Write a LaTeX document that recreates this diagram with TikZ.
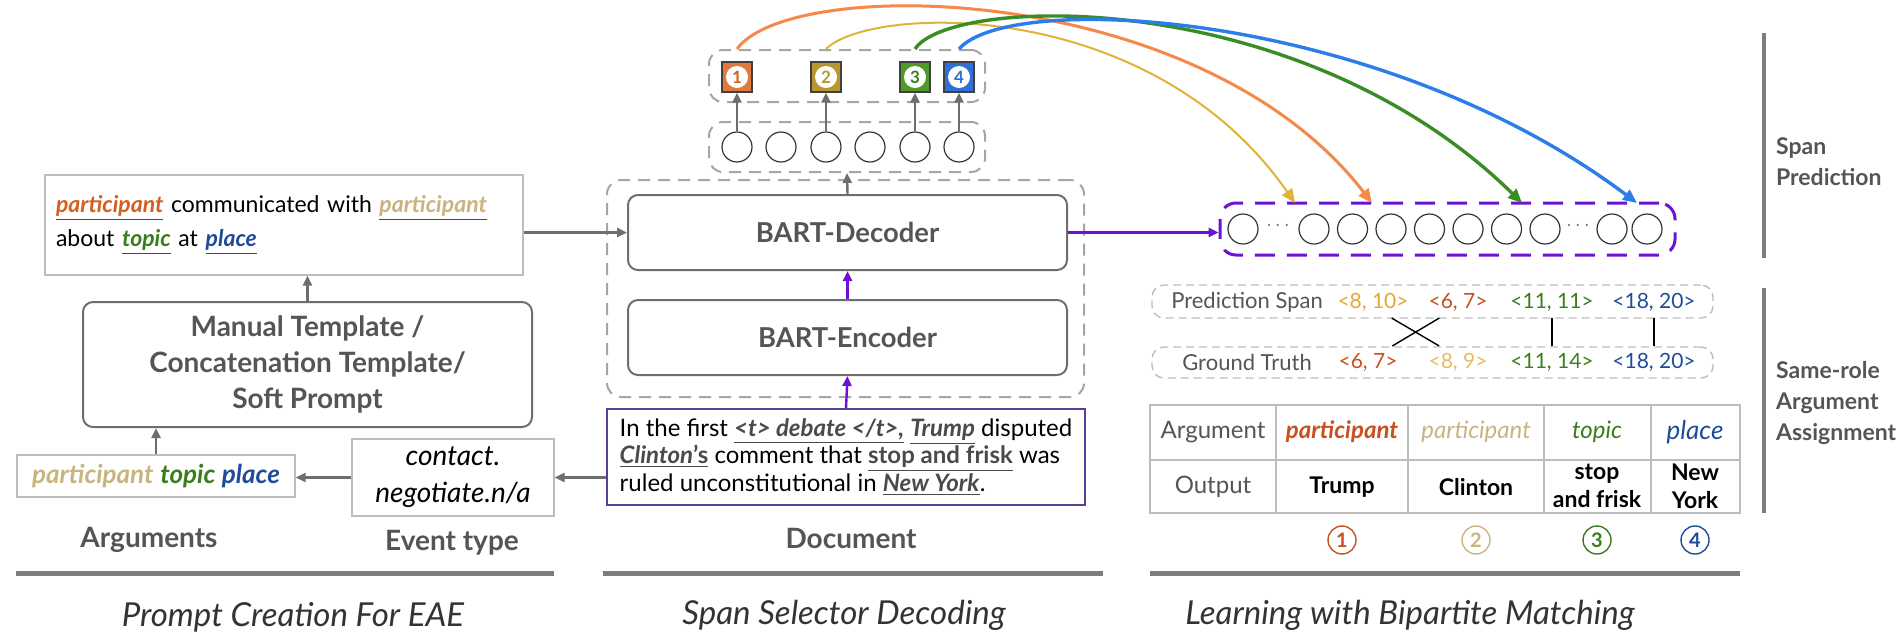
\documentclass[tikz,border=0pt]{standalone}
\usepackage{fontspec}
\setmainfont{Lato}
\usetikzlibrary{calc}
\usetikzlibrary{shapes}
\usetikzlibrary{arrows.meta}
\definecolor{argorange}{HTML}{D2601F}
\definecolor{argred}{HTML}{C8501E}
\definecolor{argtan}{HTML}{C9B47F}
\definecolor{arggold}{HTML}{E3A735}
\definecolor{arggreen}{HTML}{3A7D1C}
\definecolor{argblue}{HTML}{1F4B98}
\definecolor{arcorange}{HTML}{F5884A}
\definecolor{arcyellow}{HTML}{DFB23A}
\definecolor{arcgreen}{HTML}{3A8C27}
\definecolor{arcblue}{HTML}{2B7DE9}
\definecolor{sqorange}{HTML}{E07A3C}
\definecolor{sqgold}{HTML}{B8982E}
\definecolor{sqgreen}{HTML}{4E9A2A}
\definecolor{sqblue}{HTML}{2F6FD8}
\definecolor{bartpurple}{HTML}{6A12D6}
\definecolor{docpurple}{HTML}{5A3C9A}
\definecolor{linegray}{HTML}{6E6E6E}
\definecolor{dashgray}{HTML}{A5A5A5}
\definecolor{lightgray}{HTML}{BDBDBD}
\definecolor{textgray}{HTML}{555555}
\definecolor{ulgray}{HTML}{4A4A4A}
\newcommand{\tok}[3]{ \node[tok] (#1) at (#2,#3) {}; }
\newcommand{\outsq}[5]{ \node[outsq, fill=#3] (#1) at (#2,77) {}; \node[outnum, text=#4] (#1n) at (#1) {#5}; }
\newcommand{\cnum}[4]{ \node[cnum, draw=#3, text=#3] (#1) at (#2,540) {#4}; }
\newcommand{\undl}[1]{{\color{ulgray}\underline{#1}}}
\newcommand{\bi}[2]{\textcolor{#1}{\textbf{\textit{#2}}}}

\tikzset{
    box/.style={draw=lightgray, line width=0.7pt, inner sep=0pt},
    rbox/.style={draw=linegray, line width=1pt, rounded corners=5pt, text=textgray, font=\fontsize{13.7}{16}\selectfont\bfseries},
    dbox/.style={draw=dashgray, line width=1pt, dash pattern=on 6pt off 4pt, rounded corners=7pt},
    sbox/.style={draw=lightgray, line width=0.7pt, dash pattern=on 4pt off 2.5pt, rounded corners=6pt, minimum width=280.5pt},
    tok/.style={circle, draw=black!80, line width=0.6pt, minimum size=15pt, inner sep=0pt},
    outsq/.style={draw=black!75, line width=0.6pt, minimum size=15pt, inner sep=0pt},
    outnum/.style={circle, fill=white, minimum size=11pt, inner sep=0pt, font=\fontsize{8.5}{9}\selectfont\bfseries},
    cnum/.style={circle, line width=0.7pt, minimum size=14pt, inner sep=0pt, font=\fontsize{10}{10}\selectfont\bfseries},
    garrow/.style={draw=linegray, line width=1.2pt, -{Triangle[length=5pt,width=4.5pt]}},
    parrow/.style={draw=bartpurple, line width=1.2pt, -{Triangle[length=5pt,width=4.5pt]}},
    arc/.style={-{Triangle[length=7pt,width=6pt]}},
    lbl/.style={text=textgray, font=\fontsize{14}{16}\selectfont\bfseries},
    side/.style={text=textgray, anchor=west, align=left, font=\fontsize{11.5}{15.5}\selectfont\bfseries},
    bar/.style={draw=linegray!90, line width=2pt},
    sep/.style={draw=linegray!90, line width=2.5pt},
    title/.style={text=black!80, font=\fontsize{16.5}{18}\selectfont\itshape},
    spantxt/.style={font=\fontsize{10.5}{12}\selectfont, minimum height=15.5pt, inner xsep=0pt},
    spanlbl/.style={text=textgray, font=\fontsize{11}{12}\selectfont},
    cell/.style={font=\fontsize{12}{13}\selectfont, align=center},
    outcell/.style={font=\fontsize{11.5}{14}\selectfont\bfseries, align=center},
    tline/.style={draw=lightgray, line width=0.8pt}
}

\begin{document}
\begin{tikzpicture}[x=0.5pt,y=-0.5pt]
    \useasboundingbox (0,0) rectangle (1898,634);
    % prompt creation
    \node[box, minimum width=239pt, minimum height=50pt, text width=228pt, align=left, font=\fontsize{11.5}{17}\selectfont] (tmpl) at (284,225)
        {\undl{\bi{argorange}{participant}} communicated with \undl{\bi{argtan}{participant}}\\
         about \undl{\bi{arggreen}{topic}} at \undl{\bi{argblue}{place}}};
    \node[rbox, minimum width=224.5pt, minimum height=62.5pt, align=center, font=\fontsize{14}{18}\selectfont\bfseries] (manual) at (307.5,364.5)
        {Manual Template /\\Concatenation Template/\\Soft Prompt};
    \node[box, minimum width=139pt, minimum height=21pt, font=\fontsize{13}{13}\selectfont] (args) at (156,476)
        {\bi{argtan}{participant} \bi{arggreen}{topic} \bi{argblue}{place}};
    \node[box, minimum width=101pt, minimum height=38.5pt, align=center, font=\fontsize{14}{18.5}\selectfont\itshape] (event) at (453,477.5)
        {contact.\\negotiate.n/a};
    \node[lbl] (argslbl) at (149,540) {Arguments};
    \node[lbl] (eventlbl) at (452,543) {Event type};
    \draw[garrow] (args.north) -- (args.north |- manual.south);
    \draw[garrow] (manual.north) -- (manual.north |- tmpl.south);
    \draw[garrow] (event.west) -- (event.west -| args.east);

    % span selector decoding
    \node[dbox, minimum width=238.5pt, minimum height=108.5pt] (bart) at (845.5,288.5) {};
    \node[rbox, minimum width=219.5pt, minimum height=37.5pt] (dec) at (847.5,232.5) {BART-Decoder};
    \node[rbox, minimum width=219.5pt, minimum height=37.5pt] (enc) at (847.5,337.5) {BART-Encoder};
    \node[draw=docpurple, line width=0.8pt, minimum width=239pt, minimum height=48pt, align=left, font=\fontsize{12}{13.8}\selectfont] (doc) at (846,457)
        {In the first \undl{\textbf{\textit{<t> debate </t>,}}} \undl{\textbf{\textit{Trump}}} disputed\\
         \undl{\textbf{\textit{Clinton}}\textbf{'s}} comment that \undl{\textbf{stop and frisk}} was\\
         ruled unconstitutional in \undl{\textbf{\textit{New York}}}.};
    \node[lbl] (doclbl) at (851,538) {Document};
    \node[dbox, minimum width=138pt, minimum height=25pt] (hidbox) at (847,147) {};
    \tok{h1}{737}{147}
    \tok{h2}{781}{147}
    \tok{h3}{826}{147}
    \tok{h4}{870}{147}
    \tok{h5}{915}{147}
    \tok{h6}{959}{147}
    \node[dbox, minimum width=138pt, minimum height=26pt] (outbox) at (847,76) {};
    \outsq{s1}{737}{sqorange}{argorange}{1}
    \outsq{s2}{826}{sqgold}{sqgold}{2}
    \outsq{s3}{915}{sqgreen}{arggreen}{3}
    \outsq{s4}{959}{sqblue}{sqblue}{4}
    \draw[garrow] (h1.north) -- (s1.south);
    \draw[garrow] (h3.north) -- (s2.south);
    \draw[garrow] (h5.north) -- (s3.south);
    \draw[garrow] (h6.north) -- (s4.south);
    \draw[garrow] (dec.north) -- (hidbox.south);
    \draw[parrow] (enc.north) -- (dec.south);
    \draw[parrow] (doc.north) -- (enc.south);
    \draw[garrow] (tmpl.east |- dec.west) -- (dec.west);
    \draw[garrow] (doc.west |- event.east) -- (event.east);

    % span prediction
    \node[draw=bartpurple, line width=1.5pt, dash pattern=on 10pt off 6pt, rounded corners=8pt, minimum width=227.5pt, minimum height=26pt] (seq) at (1447.5,229) {};
    \tok{q1}{1243}{229}
    \node[text=black!60, font=\bfseries] (dotsa) at (1278,226) {$\cdots$};
    \tok{q2}{1314}{229}
    \tok{q3}{1352.5}{229}
    \tok{q4}{1391}{229}
    \tok{q5}{1429.5}{229}
    \tok{q6}{1468}{229}
    \tok{q7}{1506.5}{229}
    \tok{q8}{1545}{229}
    \node[text=black!60, font=\bfseries] (dotsb) at (1578,226) {$\cdots$};
    \tok{q9}{1612}{229}
    \tok{q10}{1647}{229}
    \draw[parrow] (dec.east) -- (dec.east -| seq.west);
    \coordinate (t1) at (1372,203);
    \coordinate (t2) at (1295,203);
    \coordinate (t3) at (1522,203);
    \coordinate (t4) at (1637,203);
    \draw[arc, draw=arcyellow, line width=1pt] (s2 |- outbox.north) .. controls (870,5) and (1150,-5) .. (t2);
    \draw[arc, draw=arcorange, line width=1.5pt] (s1 |- outbox.north) .. controls (790,-25) and (1200,-20) .. (t1);
    \draw[arc, draw=arcgreen, line width=1.7pt] (s3 |- outbox.north) .. controls (950,-5) and (1300,-15) .. (t3);
    \draw[arc, draw=arcblue, line width=1.7pt] (s4 |- outbox.north) .. controls (1010,-10) and (1380,10) .. (t4);

    % bipartite matching
    \node[sbox, minimum height=16.5pt] (predbox) at (1432.5,301.5) {};
    \node[sbox, minimum height=15.5pt] (truthbox) at (1432.5,362.5) {};
    \node[spantxt, spanlbl] (predlbl) at (1247,302) {Prediction Span};
    \node[spantxt, text=arggold] (pa) at (1373,302) {<8, 10>};
    \node[spantxt, text=argred] (pb) at (1458,302) {<6, 7>};
    \node[spantxt, text=arggreen] (pc) at (1552,302) {<11, 11>};
    \node[spantxt, text=argblue] (pd) at (1654,302) {<18, 20>};
    \node[spantxt, spanlbl] (truthlbl) at (1247,362) {Ground Truth};
    \node[spantxt, text=argred] (ga) at (1368,362) {<6, 7>};
    \node[spantxt, text=arggold!80] (gb) at (1458,362) {<8, 9>};
    \node[spantxt, text=arggreen] (gc) at (1552,362) {<11, 14>};
    \node[spantxt, text=argblue] (gd) at (1654,362) {<18, 20>};
    \draw[line width=0.7pt] ($(pa.south)!0.22!(pb.south)$) -- ($(ga.north)!0.79!(gb.north)$);
    \draw[line width=0.7pt] ($(pa.south)!0.78!(pb.south)$) -- ($(ga.north)!0.27!(gb.north)$);
    \draw[line width=0.7pt] (pc.south) -- (gc.north);
    \draw[line width=0.7pt] (pd.south) -- (gd.north);
    % table
    \draw[tline] (1150,405) rectangle (1740,513);
    \draw[tline] (1150,460) -- (1740,460);
    \draw[tline] (1276,405) -- (1276,513);
    \draw[tline] (1408,405) -- (1408,513);
    \draw[tline] (1544,405) -- (1544,513);
    \draw[tline] (1651,405) -- (1651,513);
    \node[cell, text=textgray] (ta1) at (1213,432) {Argument};
    \node[cell, text=argred] (ta2) at (1342,432) {\textbf{\textit{participant}}};
    \node[cell, text=argtan] (ta3) at (1476,432) {\textit{participant}};
    \node[cell, text=arggreen] (ta4) at (1597,432) {\textit{topic}};
    \node[cell, text=argblue, font=\fontsize{13}{13}\selectfont] (ta5) at (1695,432) {\textit{place}};
    \node[cell, text=textgray] (to1) at (1213,487) {Output};
    \node[outcell] (to2) at (1342,487) {Trump};
    \node[outcell] (to3) at (1476,487) {Clinton};
    \node[outcell] (to4) at (1597,486) {stop\\and frisk};
    \node[outcell] (to5) at (1695,486) {New\\York};
    \cnum{n1}{1342}{argred}{1}
    \cnum{n2}{1476}{argtan}{2}
    \cnum{n3}{1597}{arggreen}{3}
    \cnum{n4}{1695}{argblue}{4}

    % side labels
    \draw[bar] (1764,33) -- (1764,258);
    \draw[bar] (1764,288) -- (1764,513);
    \node[side] (spanlbl) at (1769,162) {Span\\Prediction};
    \node[side] (rolelbl) at (1769,403) {Same-role\\Argument\\Assignment};

    % section titles
    \draw[sep] (16,573) -- (554,573);
    \draw[sep] (603,573) -- (1103,573);
    \draw[sep] (1150,573) -- (1740,573);
    \node[title] (title1) at (293,617) {Prompt Creation For EAE};
    \node[title] (title2) at (844,615) {Span Selector Decoding};
    \node[title] (title3) at (1410,615) {Learning with Bipartite Matching};
\end{tikzpicture}
\end{document}
